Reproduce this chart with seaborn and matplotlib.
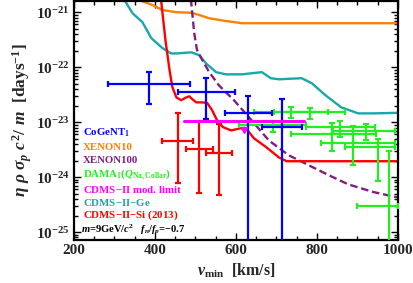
import numpy as np
import pandas as pd
import matplotlib
matplotlib.use('Agg')
import matplotlib.pyplot as plt
import seaborn as sns
from matplotlib.ticker import MultipleLocator, LogLocator, NullFormatter, FixedLocator, FixedFormatter

# limit curves: vmin [km/s] and log10 of eta*rho*sigma_p*c^2/m [days^-1]
cdms_si_x = [414, 426, 436, 443, 453, 465, 477, 485, 492, 502, 517, 529, 541, 553, 568, 588, 612, 627, 644, 674, 706, 725, 1000]
cdms_si_y = [-20.7, -21.51, -22.05, -22.36, -22.55, -22.60, -22.55, -22.53, -22.58, -22.64, -22.64, -22.65, -22.78,
             -22.96, -23.09, -23.15, -23.11, -23.13, -23.29, -23.45, -23.64, -23.71, -23.71]
xenon10_x = [350, 362, 394, 418, 453, 490, 509, 534, 575, 615, 681, 1000]
xenon10_y = [-20.7, -20.78, -20.87, -20.96, -21.0, -21.01, -21.05, -21.11, -21.16, -21.2, -21.2, -21.2]
cdms_ge_x = [318, 345, 369, 391, 418, 440, 453, 490, 509, 526, 551, 575, 615, 664, 686, 706, 762, 787, 821, 860, 902, 940, 1000]
cdms_ge_y = [-20.7, -21.02, -21.18, -21.47, -21.65, -21.75, -21.75, -21.73, -21.78, -21.93, -22.09, -22.13, -22.13,
             -22.09, -22.2, -22.22, -22.2, -22.29, -22.51, -22.73, -22.84, -22.84, -22.83]
xenon100_x = [488, 497, 504, 517, 534, 558, 595, 632, 681, 730, 779, 828, 877, 939, 1000]
xenon100_y = [-20.7, -21.38, -21.69, -21.87, -22.09, -22.33, -22.6, -22.91, -23.33, -23.6, -23.78, -23.96, -24.13,
              -24.27, -24.37]

# CoGeNT crosses
cogent_x = [386, 526, 629, 713]
cogent_xlo = [283, 458, 573, 664]
cogent_xhi = [487, 598, 688, 762]
cogent_y = [4.9e-23, 3.6e-23, 1.45e-23, 8.1e-24]
cogent_ylo = [2.14e-23, 1.12e-23, 1e-27, 1e-27]
cogent_yhi = [8.1e-23, 6.3e-23, 2.95e-23, 2.6e-23]

# CDMS-II-Si crosses
si_x = [458, 509, 558]
si_xlo = [418, 477, 526]
si_xhi = [494, 544, 590]
si_y = [4.47e-24, 3.24e-24, 2.8e-24]
si_ylo = [7.8e-25, 5.1e-25, 4.7e-25]
si_yhi = [1.45e-23, 1.05e-23, 9.1e-24]

# DAMA crosses
dama_x = [737, 784, 691, 858, 921, 836, 890, 951, 978]
dama_xlo = [644, 693, 607, 772, 840, 737, 809, 870, 899]
dama_xhi = [828, 870, 774, 944, 993, 946, 993, 993, 1000]
dama_y = [1.52e-23, 1.50e-23, 8.8e-24, 8.1e-24, 6.9e-24, 6.05e-24, 4.15e-24, 3.5e-24, 2.97e-25]
dama_ylo = [1.18e-23, 1.13e-23, 6.6e-24, 5.3e-24, 4.7e-24, 2.97e-24, 1.65e-24, 8.5e-25, 1e-27]
dama_yhi = [1.87e-23, 1.80e-23, 1.04e-23, 1.04e-23, 9.2e-24, 9.6e-24, 8.45e-24, 4.9e-24, 2.97e-24]

# CDMS-II modulation limit
mod_x = [472, 767]
mod_y = [1.04e-23, 1.04e-23]
mod_arrow_x = 620

labels = ['CoGeNT$_1$', 'XENON10', 'XENON100', r'DAMA$_1$($Q_{\mathrm{Na,Collar}}$)',
          'CDMS$-$II mod. limit', 'CDMS$-$II$-$Ge', 'CDMS$-$II$-$Si (2013)']
colors = ['#0000ff', '#ff8000', '#7f1f7f', '#22ee22', '#ff00ff', '#18a8a8', '#ff0000']

sns.set_style('ticks')
plt.rcParams['font.family'] = ['Liberation Serif', 'DejaVu Serif']
plt.rcParams['font.weight'] = 'bold'
plt.rcParams['axes.labelweight'] = 'bold'
plt.rcParams['mathtext.fontset'] = 'custom'
plt.rcParams['mathtext.rm'] = 'Liberation Serif:bold'
plt.rcParams['mathtext.it'] = 'Liberation Serif:italic:bold'
plt.rcParams['mathtext.bf'] = 'Liberation Serif:bold'

fig = plt.figure(figsize=(4.13, 2.83), dpi=100)
ax = fig.add_axes([0.179, 0.152, 0.7845, 0.8445])

curves = [(xenon10_x, xenon10_y, colors[1], '-'),
          (cdms_ge_x, cdms_ge_y, colors[5], '-'),
          (xenon100_x, xenon100_y, colors[2], (0, (3.2, 1.6))),
          (cdms_si_x, cdms_si_y, colors[6], '-')]
for cx, cy, col, ls in curves:
    df = pd.DataFrame({'vmin': cx, 'val': 10.0 ** np.array(cy)})
    sns.lineplot(data=df, x='vmin', y='val', color=col, lw=1.7, ax=ax, estimator=None, sort=False)
    ax.lines[-1].set_linestyle(ls)

def crosses(x, xlo, xhi, y, ylo, yhi, col):
    x, xlo, xhi = map(np.array, (x, xlo, xhi))
    y, ylo, yhi = map(np.array, (y, ylo, yhi))
    ax.errorbar(x, y, xerr=[x - xlo, xhi - x], yerr=[y - ylo, yhi - y], fmt='none',
                ecolor=col, elinewidth=1.6, capsize=2.5, capthick=1.6, zorder=3)

crosses(dama_x, dama_xlo, dama_xhi, dama_y, dama_ylo, dama_yhi, colors[3])
crosses(si_x, si_xlo, si_xhi, si_y, si_ylo, si_yhi, colors[6])
ax.plot(mod_x, mod_y, color=colors[4], lw=2.2, zorder=4)
ax.plot([mod_arrow_x], [7.3e-24], marker='v', color=colors[4], ms=5, zorder=4)
crosses(cogent_x, cogent_xlo, cogent_xhi, cogent_y, cogent_ylo, cogent_yhi, colors[0])

ax.set_yscale('log')
ax.set_xlim(200, 1000)
ax.set_ylim(7.2e-26, 1.6e-21)

ax.xaxis.set_major_locator(MultipleLocator(200))
ax.xaxis.set_minor_locator(MultipleLocator(50))
ax.yaxis.set_major_locator(FixedLocator([1e-25, 1e-24, 1e-23, 1e-22, 1e-21]))
ax.yaxis.set_major_formatter(FixedFormatter([r'$10^{-25}$', r'$10^{-24}$', r'$10^{-23}$', r'$10^{-22}$', r'$10^{-21}$']))
ax.yaxis.set_minor_locator(LogLocator(base=10, subs=np.arange(2, 10), numticks=20))
ax.yaxis.set_minor_formatter(NullFormatter())
ax.tick_params(which='both', direction='in', top=True, right=True, width=1.0, color='black',
               labelsize=11, pad=3)
ax.tick_params(which='major', length=5)
ax.tick_params(which='minor', length=3)
for lab in ax.get_xticklabels() + ax.get_yticklabels():
    lab.set_fontweight('bold')
for sp in ax.spines.values():
    sp.set_linewidth(1.6)
    sp.set_color('black')

ax.set_xlabel(r'$v_{\mathrm{min}}$  [km/s]', fontsize=11.5, labelpad=3)
ax.set_ylabel(r'$\eta\ \rho\ \sigma_p\ c^2/\ m$  [days$^{-1}$]', fontsize=12.5, labelpad=1)

ys = [0.448, 0.389, 0.331, 0.272, 0.213, 0.157, 0.103]
for lab, col, yy in zip(labels, colors, ys):
    ax.text(0.028, yy, lab, color=col, transform=ax.transAxes, fontsize=7.8, fontweight='bold', va='center')
ax.text(0.022, 0.042, r'$m$=9GeV/$c^2$   $f_n/f_p$=$-$0.7', color='black', transform=ax.transAxes,
        fontsize=7.6, fontweight='bold', va='center')

fig.savefig('out.png', dpi=100)
